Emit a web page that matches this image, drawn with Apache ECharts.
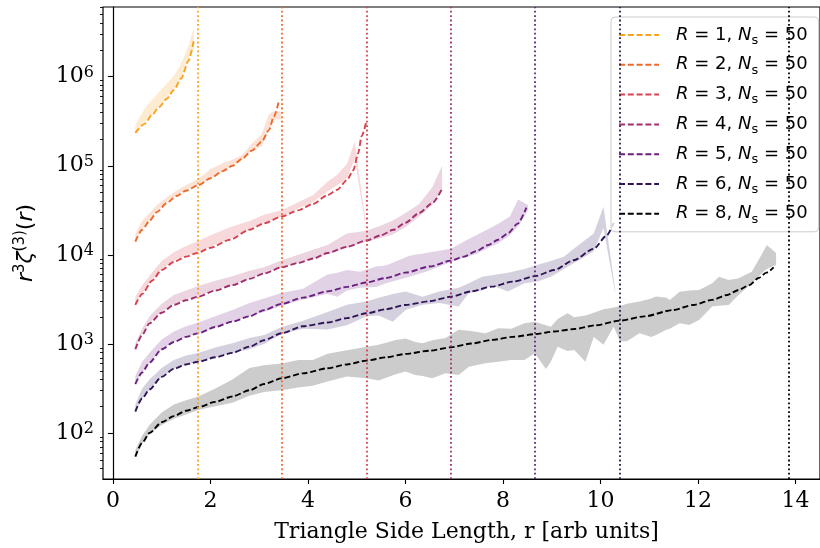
<!DOCTYPE html>
<html><head><meta charset="utf-8">
<script src="https://cdn.jsdelivr.net/npm/echarts@6/dist/echarts.min.js"></script>
<style>html,body{margin:0;padding:0;background:#fff}#c{width:820px;height:548px}</style>
</head><body><div id="c"></div>
<script>
// ---------- data ----------
const rValues = ['1', '2', '3', '4', '5', '6', '8'];
const nSamples = '50';
const vlineX = [1.732, 3.464, 5.196, 6.928, 8.660, 10.392, 13.856];
const xTicks = [0, 2, 4, 6, 8, 10, 12, 14];
const yMajorTicks = [100, 1000, 10000, 100000, 1000000];
const yMinorTicks = [40, 50, 60, 70, 80, 90, 200, 300, 400, 500, 600, 700, 800, 900,
  2000, 3000, 4000, 5000, 6000, 7000, 8000, 9000, 20000, 30000, 40000, 50000, 60000, 70000, 80000, 90000,
  200000, 300000, 400000, 500000, 600000, 700000, 800000, 900000, 2000000, 3000000, 4000000, 5000000, 6000000];

// R = 1
const x1 = [0.46, 0.65, 0.8, 0.95, 1.1, 1.25, 1.4, 1.55, 1.66];
const line1 = [2.34e5, 2.95e5, 3.72e5, 4.57e5, 5.62e5, 7.08e5, 9.55e5, 1.51e6, 2.57e6];
const lo1 = [2.40e5, 3.02e5, 3.80e5, 4.68e5, 5.75e5, 7.24e5, 1.0e6, 1.58e6, 2.0e6];
const hi1 = [2.88e5, 4.37e5, 5.50e5, 6.76e5, 8.32e5, 1.02e6, 1.41e6, 2.24e6, 3.55e6];

// R = 2
const x2 = [0.46, 0.6, 0.75, 0.9, 1.1, 1.3, 1.5, 1.75, 2.0, 2.25, 2.45, 2.65, 2.85, 3.05, 3.2, 3.3, 3.41];
const line2 = [1.41e4, 1.91e4, 2.40e4, 3.02e4, 3.80e4, 4.57e4, 5.25e4, 6.03e4, 7.24e4, 8.71e4, 1.0e5, 1.20e5, 1.48e5, 1.86e5, 2.51e5, 3.55e5, 5.50e5];
const xb2 = [0.46, 0.6, 0.75, 0.9, 1.1, 1.3, 1.5, 1.75, 2.0, 2.25, 2.45, 2.65, 2.85, 3.05, 3.2, 3.3, 3.45];
const lo2 = [1.48e4, 1.95e4, 2.45e4, 3.09e4, 3.89e4, 4.68e4, 5.37e4, 6.03e4, 7.24e4, 8.51e4, 1.0e5, 1.17e5, 1.48e5, 1.66e5, 2.51e5, 3.31e5, 3.31e5];
const hi2 = [1.74e4, 2.40e4, 2.95e4, 3.63e4, 4.37e4, 5.25e4, 6.03e4, 7.08e4, 9.12e4, 1.07e5, 1.17e5, 1.32e5, 1.78e5, 2.24e5, 3.80e5, 4.07e5, 4.07e5];

// R = 3
const x3 = [0.46, 0.6, 0.8, 1.0, 1.25, 1.5, 1.73, 2.0, 2.4, 2.8, 3.1, 3.46, 3.8, 4.1, 4.4, 4.6, 4.8, 4.93, 5.03, 5.1, 5.19];
const line3 = [2.75e3, 3.63e3, 5.13e3, 6.76e3, 8.32e3, 9.55e3, 1.05e4, 1.20e4, 1.48e4, 1.91e4, 2.26e4, 2.69e4, 3.16e4, 3.72e4, 4.68e4, 5.37e4, 6.92e4, 8.91e4, 1.38e5, 2.14e5, 3.02e5];
const xb3 = [0.46, 0.6, 0.8, 1.0, 1.25, 1.5, 1.73, 2.0, 2.4, 2.8, 3.1, 3.46, 3.8, 4.1, 4.4, 4.6, 4.8, 4.96, 5.17];
const lo3 = [2.82e3, 3.72e3, 5.25e3, 6.92e3, 8.51e3, 9.77e3, 1.07e4, 1.23e4, 1.51e4, 1.91e4, 2.29e4, 2.69e4, 3.31e4, 3.89e4, 5.13e4, 6.03e4, 7.24e4, 1.20e5, 2.29e4];
const hi3 = [3.39e3, 4.57e3, 6.31e3, 8.51e3, 1.07e4, 1.26e4, 1.41e4, 1.66e4, 2.04e4, 2.40e4, 2.82e4, 3.16e4, 3.89e4, 4.68e4, 6.61e4, 7.94e4, 1.05e5, 1.86e5, 2.63e4];

// R = 4
const x4 = [0.46, 0.6, 0.75, 1.0, 1.25, 1.5, 1.75, 2.1, 2.45, 2.8, 3.1, 3.46, 3.8, 4.12, 4.4, 4.8, 5.2, 5.5, 5.75, 6.0, 6.28, 6.55, 6.74];
const line4 = [871, 1.26e3, 1.70e3, 2.24e3, 2.75e3, 3.09e3, 3.39e3, 3.98e3, 4.57e3, 5.37e3, 6.17e3, 7.24e3, 8.13e3, 9.12e3, 1.05e4, 1.23e4, 1.45e4, 1.66e4, 1.91e4, 2.29e4, 2.95e4, 3.80e4, 5.37e4];
const xb4 = [0.46, 0.6, 0.75, 1.0, 1.25, 1.5, 1.75, 2.1, 2.45, 2.8, 3.1, 3.46, 3.8, 4.12, 4.4, 4.8, 5.2, 5.5, 5.75, 6.0, 6.28, 6.55, 6.75];
const lo4 = [891, 1.29e3, 1.74e3, 2.29e3, 2.82e3, 3.16e3, 3.47e3, 4.07e3, 4.57e3, 5.37e3, 6.17e3, 7.24e3, 8.13e3, 9.12e3, 1.02e4, 1.20e4, 1.41e4, 1.55e4, 1.70e4, 2.04e4, 2.69e4, 3.63e4, 5.50e4];
const hi4 = [1.02e3, 1.48e3, 2.04e3, 2.82e3, 3.55e3, 3.98e3, 4.47e3, 5.13e3, 5.75e3, 6.61e3, 7.24e3, 8.71e3, 1.0e4, 1.15e4, 1.29e4, 1.74e4, 1.86e4, 2.14e4, 2.45e4, 2.95e4, 3.72e4, 5.75e4, 1.0e5];

// R = 5
const x5 = [0.46, 0.6, 0.75, 1.0, 1.25, 1.5, 1.75, 2.1, 2.45, 2.8, 3.1, 3.46, 3.9, 4.4, 4.8, 5.2, 5.6, 6.0, 6.5, 6.93, 7.2, 7.45, 7.7, 7.9, 8.1, 8.3, 8.48];
const line5 = [355, 479, 617, 871, 1.05e3, 1.20e3, 1.32e3, 1.55e3, 1.78e3, 2.04e3, 2.40e3, 2.82e3, 3.31e3, 3.89e3, 4.37e3, 4.90e3, 5.50e3, 6.31e3, 7.41e3, 8.61e3, 9.55e3, 1.10e4, 1.29e4, 1.48e4, 1.74e4, 2.24e4, 3.39e4];
const xb5 = [0.46, 0.6, 0.75, 1.0, 1.25, 1.5, 1.75, 2.1, 2.45, 2.8, 3.1, 3.46, 3.9, 4.4, 4.6, 4.8, 5.07, 5.4, 5.6, 6.08, 6.42, 6.93, 7.2, 7.45, 7.7, 7.9, 8.14, 8.31, 8.51];
const lo5 = [355, 479, 617, 871, 1.05e3, 1.20e3, 1.32e3, 1.55e3, 1.78e3, 2.04e3, 2.29e3, 2.69e3, 3.16e3, 3.63e3, 3.39e3, 3.98e3, 4.27e3, 4.37e3, 4.79e3, 5.69e3, 6.46e3, 8.32e3, 9.33e3, 1.02e4, 1.20e4, 1.35e4, 1.66e4, 2.09e4, 3.16e4];
const hi5 = [437, 631, 794, 1.12e3, 1.38e3, 1.58e3, 1.74e3, 2.04e3, 2.40e3, 2.88e3, 3.24e3, 3.72e3, 4.17e3, 6.03e3, 6.31e3, 6.76e3, 6.46e3, 7.41e3, 7.59e3, 9.77e3, 1.05e4, 1.17e4, 1.41e4, 1.66e4, 1.95e4, 2.24e4, 2.69e4, 4.17e4, 3.63e4];

// R = 6
const x6 = [0.46, 0.6, 0.75, 1.0, 1.25, 1.5, 1.75, 2.1, 2.45, 2.8, 3.1, 3.46, 3.9, 4.4, 4.8, 5.2, 5.6, 6.0, 6.5, 6.93, 7.35, 7.77, 8.2, 8.67, 9.05, 9.45, 9.86, 10.13, 10.27];
const line6 = [174, 245, 309, 427, 525, 589, 631, 708, 794, 933, 1.10e3, 1.32e3, 1.58e3, 1.74e3, 1.95e3, 2.21e3, 2.45e3, 2.74e3, 3.02e3, 3.39e3, 3.89e3, 4.40e3, 5.01e3, 5.79e3, 6.76e3, 8.71e3, 1.17e4, 1.66e4, 2.29e4];
const xb6 = [0.46, 0.6, 0.75, 1.0, 1.25, 1.5, 1.75, 2.1, 2.45, 2.8, 3.1, 3.46, 3.9, 4.4, 4.8, 5.2, 5.45, 5.74, 6.0, 6.35, 6.69, 7.09, 7.3, 7.57, 7.77, 8.1, 8.44, 8.71, 8.98, 9.25, 9.45, 9.86, 10.06, 10.3];
const lo6 = [174, 245, 309, 427, 525, 589, 631, 708, 794, 871, 1.0e3, 1.29e3, 1.48e3, 1.45e3, 1.62e3, 2.04e3, 2.09e3, 1.78e3, 2.40e3, 2.75e3, 2.88e3, 2.63e3, 3.72e3, 3.98e3, 4.57e3, 3.89e3, 4.79e3, 5.01e3, 5.69e3, 6.92e3, 8.05e3, 1.10e4, 2.0e4, 3.72e3];
const hi6 = [209, 316, 398, 537, 661, 741, 794, 912, 1.02e3, 1.17e3, 1.26e3, 1.55e3, 1.82e3, 2.29e3, 2.75e3, 2.99e3, 3.31e3, 3.63e3, 3.89e3, 3.39e3, 3.89e3, 4.27e3, 4.79e3, 5.69e3, 5.89e3, 6.31e3, 6.92e3, 7.76e3, 8.51e3, 9.55e3, 1.17e4, 1.74e4, 3.47e4, 4.07e3];

// R = 8
const x8 = [0.46, 0.6, 0.75, 1.0, 1.25, 1.5, 1.75, 2.1, 2.45, 2.8, 3.1, 3.46, 3.9, 4.4, 4.8, 5.2, 5.6, 6.0, 6.5, 6.93, 7.35, 7.77, 8.2, 8.67, 9.05, 9.46, 9.9, 10.4, 10.9, 11.48, 11.9, 12.29, 12.6, 12.83, 13.05, 13.24, 13.4, 13.55];
const line8 = [54.3, 77.6, 100, 132, 155, 178, 195, 224, 257, 302, 355, 412, 468, 533, 589, 650, 708, 773, 841, 918, 1.01e3, 1.11e3, 1.20e3, 1.29e3, 1.38e3, 1.47e3, 1.62e3, 1.83e3, 2.04e3, 2.40e3, 2.74e3, 3.12e3, 3.55e3, 4.04e3, 4.57e3, 5.50e3, 6.31e3, 7.24e3];
const xb8 = [0.46, 0.6, 0.75, 1.0, 1.25, 1.5, 1.75, 2.1, 2.45, 2.8, 3.1, 3.46, 3.8, 4.1, 4.4, 4.8, 5.2, 5.45, 5.8, 6.0, 6.2, 6.35, 6.55, 6.82, 7.09, 7.3, 7.64, 7.9, 8.17, 8.44, 8.65, 8.88, 8.98, 9.12, 9.32, 9.46, 9.69, 9.86, 10.06, 10.27, 10.4, 10.54, 10.8, 11.04, 11.14, 11.35, 11.42, 11.62, 11.82, 12.02, 12.29, 12.43, 12.63, 12.83, 13.1, 13.3, 13.41, 13.6];
const lo8 = [53.7, 75.9, 97.7, 123, 145, 162, 182, 200, 219, 263, 288, 302, 324, 339, 378, 430, 412, 389, 457, 490, 447, 437, 412, 468, 447, 556, 607, 631, 661, 661, 787, 525, 631, 933, 832, 857, 631, 1.20e3, 977, 1.56e3, 1.07e3, 1.07e3, 1.32e3, 1.20e3, 1.26e3, 1.44e3, 1.48e3, 1.71e3, 1.63e3, 1.86e3, 2.63e3, 2.69e3, 2.74e3, 3.55e3, 4.79e3, 6.17e3, 6.92e3, 7.69e3];
const hi8 = [64.6, 93.3, 123, 170, 209, 234, 257, 316, 398, 537, 575, 603, 661, 661, 776, 851, 933, 977, 1.11e3, 1.15e3, 1.05e3, 1.02e3, 1.10e3, 1.17e3, 1.44e3, 1.41e3, 1.32e3, 1.50e3, 1.48e3, 1.71e3, 1.78e3, 1.62e3, 1.56e3, 1.91e3, 2.21e3, 2.0e3, 2.09e3, 2.24e3, 2.45e3, 2.57e3, 2.67e3, 2.82e3, 2.99e3, 3.24e3, 3.40e3, 3.31e3, 3.12e3, 3.86e3, 3.98e3, 4.04e3, 4.79e3, 5.69e3, 5.22e3, 5.46e3, 6.46e3, 1.0e4, 1.29e4, 1.05e4];

// ---------- styling ----------
const colors = ['#f9a21e', '#ee6a2b', '#d8434e', '#a02f6b', '#6b1f81', '#2e1456', '#000000'];
const bandColors = ['rgba(249,162,30,0.2)', 'rgba(238,106,43,0.2)', 'rgba(216,67,78,0.2)', 'rgba(160,47,107,0.2)', 'rgba(107,31,129,0.2)', 'rgba(46,20,86,0.2)', 'rgba(0,0,0,0.2)'];

const lineX = [x1, x2, x3, x4, x5, x6, x8];
const lineY = [line1, line2, line3, line4, line5, line6, line8];
const bandX = [x1, xb2, xb3, xb4, xb5, xb6, xb8];
const bandLo = [lo1, lo2, lo3, lo4, lo5, lo6, lo8];
const bandHi = [hi1, hi2, hi3, hi4, hi5, hi6, hi8];

const series = [];
const names = rValues.map(r => 'R' + r);
rValues.forEach((r, k) => {
  const xs = bandX[k], lo = bandLo[k], hi = bandHi[k];
  series.push({
    type: 'custom', name: 'band' + r, silent: true, z: 1,
    data: xs.map((x, i) => [x, lo[i], hi[i]]),
    encode: { x: 0, y: [1, 2] },
    renderItem: function (params, api) {
      if (params.dataIndex !== 0) return null;
      const up = xs.map((x, i) => api.coord([x, hi[i]]));
      const dn = xs.map((x, i) => api.coord([x, lo[i]])).reverse();
      return { type: 'polygon', shape: { points: up.concat(dn) }, style: { fill: bandColors[k], stroke: null } };
    }
  });
  series.push({
    type: 'line', name: names[k], z: 3,
    data: lineX[k].map((x, i) => [x, lineY[k][i]]),
    symbol: 'none', showSymbol: false,
    smooth: 0.25, smoothMonotone: 'x',
    lineStyle: { type: [6, 2.8], width: 1.9, color: colors[k] },
    itemStyle: { color: colors[k] },
    markLine: {
      silent: true, symbol: ['none', 'none'], label: { show: false },
      lineStyle: { type: [1.8, 2.6], width: 1.8, color: colors[k] },
      data: [{ xAxis: vlineX[k] }]
    }
  });
});

const serif = 'DejaVu Serif';
const sans = 'DejaVu Sans';

const chart = echarts.init(document.getElementById('c'));
chart.setOption({
  animation: false,
  backgroundColor: '#ffffff',
  grid: { left: 103, top: 7, width: 726, height: 472, show: true, borderColor: '#000', borderWidth: 1.2, backgroundColor: 'transparent' },
  legend: {
    data: names, orient: 'vertical', left: 611, top: 17,
    icon: 'inherit',
    itemStyle: { opacity: 0 },
    itemWidth: 40, itemHeight: 12, itemGap: 5.8,
    padding: [6, 11, 6, 7],
    backgroundColor: 'rgba(255,255,255,0.8)', borderColor: '#cccccc', borderWidth: 1, borderRadius: 4,
    formatter: function (name) {
      const r = name.slice(1);
      return '{sp|}{i|R}{t| = ' + r + ', }{i|N}{s|s}{t| = ' + nSamples + '}';
    },
    textStyle: {
      color: '#000', fontFamily: sans, fontSize: 18, lineHeight: 24,
      rich: {
        sp: { width: 12 },
        t: { fontFamily: sans, fontSize: 18, color: '#000' },
        i: { fontFamily: sans, fontSize: 18, fontStyle: 'italic', color: '#000' },
        s: { fontFamily: sans, fontSize: 13, color: '#000', verticalAlign: 'bottom' }
      }
    }
  },
  xAxis: {
    type: 'value', min: -0.203, max: 14.5,
    axisLine: { show: true, lineStyle: { color: '#000', width: 1.2 } },
    axisTick: { show: true, customValues: xTicks, length: 5, lineStyle: { color: '#000', width: 1.1 } },
    axisLabel: { customValues: xTicks, fontFamily: serif, fontSize: 22, color: '#000', margin: 11 },
    splitLine: { show: false },
    name: 'Triangle Side Length, r [arb units]', nameLocation: 'middle', nameGap: 42,
    nameTextStyle: { fontFamily: serif, fontSize: 22, color: '#000', padding: [0, 0, 0, 10] }
  },
  yAxis: [{
    type: 'log', logBase: 10, min: 30.5, max: 6.05e6,
    axisLine: { show: true, lineStyle: { color: '#000', width: 1.2 } },
    axisTick: { show: true, customValues: yMajorTicks, length: 5, lineStyle: { color: '#000', width: 1.1 } },
    axisLabel: {
      customValues: yMajorTicks, margin: 9,
      formatter: v => '{b|10}{s|' + Math.round(Math.log10(v)) + '}',
      rich: {
        b: { fontFamily: serif, fontSize: 22, color: '#000' },
        s: { fontFamily: serif, fontSize: 16, color: '#000', verticalAlign: 'top' }
      },
      lineHeight: 24
    },
    splitLine: { show: false },
    name: '{i|r}{s|3}{i|ζ}{s|(3)}{t|(}{i|r}{t|)}', nameLocation: 'middle', nameGap: 64, nameRotate: 90,
    nameTextStyle: {
      fontFamily: sans, fontSize: 22, color: '#000', lineHeight: 26,
      rich: {
        i: { fontFamily: sans, fontSize: 22, fontStyle: 'italic', color: '#000' },
        t: { fontFamily: sans, fontSize: 22, color: '#000' },
        s: { fontFamily: sans, fontSize: 15, color: '#000', verticalAlign: 'top' }
      }
    }
  }, {
    type: 'log', logBase: 10, min: 30.5, max: 6.05e6, position: 'left',
    axisLine: { show: false },
    axisTick: { show: true, customValues: yMinorTicks, length: 3, lineStyle: { color: '#000', width: 0.9 } },
    axisLabel: { show: false },
    splitLine: { show: false }
  }],
  series: series
});
</script>
</body></html>
